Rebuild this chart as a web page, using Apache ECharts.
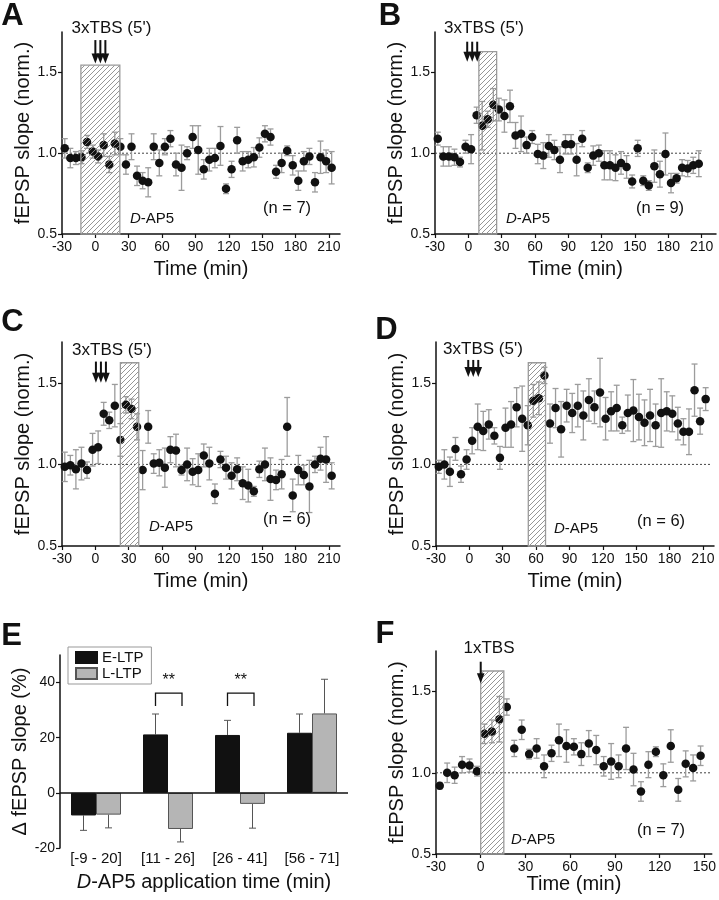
<!DOCTYPE html>
<html><head><meta charset="utf-8">
<script src="https://cdn.jsdelivr.net/npm/echarts@6/dist/echarts.min.js"></script>
<style>html,body{margin:0;padding:0;background:#fff}#c{width:719px;height:900px}</style>
</head><body><div id="c"></div>
<script>
// ---------------- DATA ----------------
const TIME_A = [-27.5,-22.5,-17.5,-12.5,-7.5,-2.5,2.5,7.5,12.5,17.5,22.5,27.5,32.5,37.5,42.5,47.5,52.5,57.5,62.5,67.5,72.5,77.5,82.5,87.5,92.5,97.5,102.5,107.5,112.5,117.5,122.5,127.5,132.5,137.5,142.5,147.5,152.5,157.5,162.5,167.5,172.5,177.5,182.5,187.5,192.5,197.5,202.5,207.5,212.5];
const VAL_A = [1.03,0.97,0.97,0.975,1.07,1.01,0.98,1.05,0.93,1.06,1.04,0.93,1.04,0.86,0.83,0.82,1.04,0.94,1.04,1.09,0.93,0.91,1.0,1.10,1.02,0.90,0.96,0.97,1.045,0.78,0.90,1.08,0.95,0.96,0.975,1.035,1.12,1.10,0.885,0.94,1.015,0.925,0.83,0.95,0.98,0.82,0.975,0.95,0.91];
const ERR_A = [0.06,0.06,0.04,0.04,0.04,0.04,0.04,0.07,0.05,0.07,0.05,0.06,0.08,0.06,0.05,0.09,0.08,0.08,0.05,0.05,0.07,0.14,0.04,0.07,0.15,0.06,0.07,0.06,0.12,0.03,0.05,0.08,0.06,0.05,0.06,0.06,0.05,0.05,0.04,0.06,0.03,0.06,0.06,0.06,0.05,0.06,0.1,0.07,0.1];

const TIME_B = [-27.5,-22.5,-17.5,-12.5,-7.5,-2.5,2.5,7.5,12.5,17.5,22.5,27.5,32.5,37.5,42.5,47.5,52.5,57.5,62.5,67.5,72.5,77.5,82.5,87.5,92.5,97.5,102.5,107.5,112.5,117.5,122.5,127.5,132.5,137.5,142.5,147.5,152.5,157.5,162.5,167.5,172.5,177.5,182.5,187.5,192.5,197.5,202.5,207.5];
const VAL_B = [1.09,0.98,0.98,0.975,0.945,1.04,1.025,1.235,1.17,1.21,1.30,1.27,1.23,1.29,1.11,1.12,1.05,1.10,0.995,0.985,1.045,1.02,0.96,1.055,1.055,0.96,1.09,0.91,0.985,1.0,0.925,0.925,0.91,0.94,0.915,0.825,1.03,0.83,0.80,0.92,0.87,0.995,0.815,0.845,0.91,0.905,0.925,0.935];
const ERR_B = [0.04,0.06,0.06,0.05,0.03,0.04,0.09,0.05,0.15,0.05,0.1,0.07,0.1,0.1,0.08,0.11,0.05,0.04,0.06,0.08,0.07,0.06,0.08,0.06,0.06,0.1,0.05,0.03,0.06,0.05,0.09,0.09,0.08,0.07,0.07,0.04,0.05,0.03,0.03,0.1,0.08,0.13,0.06,0.03,0.05,0.05,0.05,0.08];

const TIME_C = TIME_A;
const VAL_C = [0.985,0.995,0.97,1.005,0.965,1.09,1.105,1.31,1.27,1.36,1.15,1.365,1.34,1.23,0.965,1.23,1.005,1.01,0.98,1.09,1.085,0.965,1.0,0.955,0.965,1.055,1.005,0.82,1.03,0.98,0.93,0.97,0.885,0.87,0.835,0.97,1.0,0.91,0.905,0.94,1.23,0.81,0.965,0.935,0.865,1.0,1.035,1.03,0.93];
const ERR_C = [0.09,0.06,0.12,0.1,0.05,0.1,0.1,0.07,0.05,0.13,0.1,0.05,0.06,0.08,0.12,0.1,0.06,0.08,0.12,0.08,0.1,0.03,0.1,0.08,0.1,0.07,0.1,0.06,0.05,0.07,0.08,0.07,0.1,0.1,0.03,0.05,0.1,0.13,0.06,0.09,0.18,0.1,0.09,0.06,0.16,0.05,0.07,0.14,0.08];

const TIME_D = TIME_A;
const VAL_D = [0.985,1.0,0.955,1.095,0.94,1.03,1.145,1.23,1.205,1.245,1.175,1.04,1.225,1.245,1.35,1.28,1.24,1.39,1.405,1.545,1.25,1.345,1.215,1.36,1.315,1.36,1.3,1.395,1.35,1.44,1.28,1.325,1.345,1.24,1.315,1.33,1.29,1.255,1.3,1.24,1.315,1.325,1.31,1.25,1.2,1.2,1.455,1.265,1.4];
const ERR_D = [0.04,0.09,0.09,0.07,0.05,0.06,0.08,0.14,0.12,0.09,0.05,0.07,0.12,0.14,0.12,0.2,0.12,0.1,0.1,0.05,0.12,0.12,0.17,0.1,0.12,0.13,0.15,0.13,0.1,0.21,0.13,0.12,0.14,0.05,0.11,0.19,0.14,0.14,0.16,0.13,0.21,0.12,0.11,0.1,0.08,0.14,0.16,0.08,0.07];

const TIME_F = [-27.5,-22.5,-17.5,-12.5,-7.5,-2.5,2.5,7.5,12.5,17.5,22.5,27.5,32.5,37.5,42.5,47.5,52.5,57.5,62.5,67.5,72.5,77.5,82.5,87.5,92.5,97.5,102.5,107.5,112.5,117.5,122.5,127.5,132.5,137.5,142.5,147.5];
const VAL_F = [0.92,1.0,0.985,1.05,1.045,1.01,1.24,1.255,1.33,1.405,1.15,1.265,1.115,1.15,1.04,1.12,1.2,1.165,1.16,1.115,1.18,1.14,1.04,1.07,1.04,1.15,1.02,0.885,1.05,1.13,0.985,1.165,0.895,1.055,1.03,1.105];
const ERR_F = [0.02,0.06,0.05,0.05,0.04,0.03,0.06,0.07,0.14,0.05,0.05,0.06,0.03,0.06,0.07,0.05,0.1,0.1,0.05,0.07,0.08,0.09,0.06,0.11,0.07,0.13,0.1,0.06,0.08,0.03,0.07,0.1,0.07,0.08,0.08,0.06];

// D-AP5 application windows [start, end, box top]
const BOX_A = [-13, 22, 1.545];
const BOX_B = [9.5, 25.5, 1.628];
const BOX_C = [22.5, 39, 1.623];
const BOX_D = [53, 68.5, 1.623];
const BOX_F = [0, 15.5, 1.627];

// stimulation arrows: times, arrow top value, arrow tip value
const ARROW_T_A = [0, 4.5, 9];   const ARROW_Y_A = [1.70, 1.555];
const ARROW_T_B = [-1, 3.5, 8];  const ARROW_Y_B = [1.69, 1.566];
const ARROW_T_C = [0.5, 5, 9.5]; const ARROW_Y_C = [1.63, 1.50];
const ARROW_T_D = [-1, 3.5, 8];  const ARROW_Y_D = [1.64, 1.535];
const ARROW_T_F = [0];           const ARROW_Y_F = [1.684, 1.551];

const BASELINE = 1.0;
const DOT_END = [213, 211, 215, 218, 155];

const X_TICKS = [-30,0,30,60,90,120,150,180,210];
const X_TICKS_F = [-30,0,30,60,90,120,150];
const Y_TICKS = [0.5,1.0,1.5];

// Panel E
const E_CATS = ['[-9 - 20]','[11 - 26]','[26 - 41]','[56 - 71]'];
const E_LTP = [-8.2, 21.2, 21.0, 21.8];
const E_LTP_ERR = [5.4, 7.4, 5.3, 6.8];
const L_LTP = [-7.9, -13.1, -4.0, 28.8];
const L_LTP_ERR = [4.8, 4.7, 8.8, 12.4];
const E_Y_TICKS = [-20, 0, 20, 40];
const SIG_CATS = [1, 2];          // categories with ** brackets
const SIG_Y = [36.2, 31.5];       // bracket top, leg end

// ---------------- CHART ----------------
const FONT = '"Liberation Sans", Arial, Helvetica, sans-serif';
const FF = 'Liberation Sans, Arial, Helvetica, sans-serif';
const INK = '#111';

function hatch() {
  const s = 5, c = document.createElement('canvas');
  c.width = s; c.height = s;
  const g = c.getContext('2d');
  g.strokeStyle = '#8a8a8a'; g.lineWidth = 0.9;
  g.beginPath();
  g.moveTo(0, s); g.lineTo(s, 0);
  g.moveTo(-1, 1); g.lineTo(1, -1);
  g.moveTo(s - 1, s + 1); g.lineTo(s + 1, s - 1);
  g.stroke();
  return c;
}
const HATCH = {image: hatch(), repeat: 'repeat'};

const panels = [
  {grid:{left:62, top:32, width:278, height:202}, xMax:220, ticks:X_TICKS, t:TIME_A, v:VAL_A, e:ERR_A, box:BOX_A, at:ARROW_T_A, ay:ARROW_Y_A, nameGap:25},
  {grid:{left:435, top:32, width:281, height:202}, xMax:223, ticks:X_TICKS, t:TIME_B, v:VAL_B, e:ERR_B, box:BOX_B, at:ARROW_T_B, ay:ARROW_Y_B, nameGap:25},
  {grid:{left:62, top:342, width:278, height:204}, xMax:220, ticks:X_TICKS, t:TIME_C, v:VAL_C, e:ERR_C, box:BOX_C, at:ARROW_T_C, ay:ARROW_Y_C, nameGap:25},
  {grid:{left:436, top:342, width:278, height:204}, xMax:220, ticks:X_TICKS, t:TIME_D, v:VAL_D, e:ERR_D, box:BOX_D, at:ARROW_T_D, ay:ARROW_Y_D, nameGap:25},
  {grid:{left:436, top:651, width:278, height:203}, xMax:155, ticks:X_TICKS_F, t:TIME_F, v:VAL_F, e:ERR_F, box:BOX_F, at:ARROW_T_F, ay:ARROW_Y_F, nameGap:19}
];

const grids = [], xAxes = [], yAxes = [], series = [];

function errRender(params, api) {
  const t = api.value(0), v = api.value(1), e = api.value(2);
  const hi = api.coord([t, v + e]), lo = api.coord([t, v - e]);
  const st = {stroke: '#9c9c9c', lineWidth: 1.3};
  return {type: 'group', children: [
    {type: 'line', shape: {x1: hi[0], y1: hi[1], x2: lo[0], y2: lo[1]}, style: st},
    {type: 'line', shape: {x1: hi[0] - 3, y1: hi[1], x2: hi[0] + 3, y2: hi[1]}, style: st},
    {type: 'line', shape: {x1: lo[0] - 3, y1: lo[1], x2: lo[0] + 3, y2: lo[1]}, style: st}
  ]};
}
function boxRender(params, api) {
  const p1 = api.coord([api.value(0), api.value(2)]);
  const p2 = api.coord([api.value(1), 0.5]);
  return {type: 'rect', shape: {x: p1[0], y: p1[1], width: p2[0] - p1[0], height: p2[1] - p1[1]},
    style: {fill: HATCH, stroke: '#9a9a9a', lineWidth: 1.3}};
}
function arrowRender(params, api) {
  const p = api.coord([api.value(0), api.value(1)]);
  const q = api.coord([api.value(0), api.value(2)]);
  return {type: 'group', children: [
    {type: 'line', shape: {x1: p[0], y1: p[1], x2: q[0], y2: q[1] - 8}, style: {stroke: INK, lineWidth: 2}},
    {type: 'polygon', shape: {points: [[q[0] - 3.8, q[1] - 10], [q[0] + 3.8, q[1] - 10], [q[0], q[1]]]}, style: {fill: INK}}
  ]};
}

panels.forEach((p, i) => {
  grids.push(Object.assign({containLabel: false}, p.grid));
  xAxes.push({
    gridIndex: i, type: 'value', min: -30, max: p.xMax,
    axisLine: {onZero: false, lineStyle: {color: INK, width: 1.5}},
    axisTick: {customValues: p.ticks, length: 4, lineStyle: {color: INK, width: 1.2}},
    axisLabel: {customValues: p.ticks, fontSize: 14, fontFamily: FF, color: INK, margin: 6},
    splitLine: {show: false},
    name: 'Time (min)', nameLocation: 'middle', nameGap: p.nameGap,
    nameTextStyle: {fontSize: 20, fontFamily: FF, color: INK}
  });
  yAxes.push({
    gridIndex: i, type: 'value', min: 0.5, max: 1.75,
    axisLine: {show: true, onZero: false, lineStyle: {color: INK, width: 1.5}},
    axisTick: {show: true, customValues: Y_TICKS, length: 4, lineStyle: {color: INK, width: 1.2}},
    axisLabel: {customValues: Y_TICKS, fontSize: 14, fontFamily: FF, color: INK, margin: 5, formatter: v => v.toFixed(1)},
    splitLine: {show: false},
    name: 'fEPSP slope (norm.)', nameLocation: 'middle', nameGap: 27,
    nameTextStyle: {fontSize: 20, fontFamily: FF, color: INK}
  });
  series.push({
    type: 'line', xAxisIndex: i, yAxisIndex: i, silent: true, symbol: 'none', z: 1,
    data: [[-30, BASELINE], [DOT_END[i], BASELINE]],
    lineStyle: {color: '#444', width: 1, type: [2, 2]}
  });
  series.push({
    type: 'custom', xAxisIndex: i, yAxisIndex: i, silent: true, z: 2,
    renderItem: errRender, encode: {x: 0, y: 1},
    data: p.t.map((t, j) => [t, p.v[j], p.e[j]])
  });
  series.push({
    type: 'scatter', xAxisIndex: i, yAxisIndex: i, z: 3, symbolSize: 8.5,
    itemStyle: {color: INK, opacity: 1},
    data: p.t.map((t, j) => [t, p.v[j]])
  });
  series.push({
    type: 'custom', xAxisIndex: i, yAxisIndex: i, silent: true, z: 4,
    renderItem: boxRender, encode: {x: [0, 1], y: 2},
    data: [p.box]
  });
  series.push({
    type: 'custom', xAxisIndex: i, yAxisIndex: i, silent: true, z: 5,
    renderItem: arrowRender, encode: {x: 0, y: [1, 2]},
    data: p.at.map(t => [t, p.ay[0], p.ay[1]])
  });
});

// ---- Panel E (grid index 5)
const EI = 5;
grids.push({left: 60, top: 655, width: 288, height: 193});
xAxes.push({
  gridIndex: EI, type: 'category', data: E_CATS, position: 'bottom',
  axisLine: {show: false, onZero: false}, axisTick: {show: false},
  axisLabel: {fontSize: 15, fontFamily: FF, color: INK, margin: 3},
  name: '{i|D}-AP5 application time (min)', nameLocation: 'middle', nameGap: 24,
  nameTextStyle: {fontSize: 20, fontFamily: FF, color: INK,
    rich: {i: {fontStyle: 'italic', fontSize: 20, fontFamily: FF, color: INK}}}
});
yAxes.push({
  gridIndex: EI, type: 'value', min: -20, max: 50,
  axisLine: {show: true, onZero: false, lineStyle: {color: INK, width: 1.5}},
  axisTick: {show: true, customValues: E_Y_TICKS, length: 4, lineStyle: {color: INK, width: 1.2}},
  axisLabel: {customValues: E_Y_TICKS, fontSize: 14, fontFamily: FF, color: INK, margin: 5},
  splitLine: {show: false},
  name: 'Δ fEPSP slope (%)', nameLocation: 'middle', nameGap: 26,
  nameTextStyle: {fontSize: 20, fontFamily: FF, color: INK}
});
series.push({
  name: 'E-LTP', type: 'bar', xAxisIndex: EI, yAxisIndex: EI, data: E_LTP,
  barWidth: 25, barGap: '0%', z: 2,
  itemStyle: {color: '#111', borderColor: '#111', borderWidth: 1},
  markLine: {silent: true, symbol: ['none', 'none'], label: {show: false},
    lineStyle: {color: INK, type: 'solid', width: 1.5}, data: [{yAxis: 0}]}
});
series.push({
  name: 'L-LTP', type: 'bar', xAxisIndex: EI, yAxisIndex: EI, data: L_LTP,
  barWidth: 25, barGap: '0%', z: 2,
  itemStyle: {color: '#b5b5b5', borderColor: '#555', borderWidth: 1}
});
function barErrRender(params, api) {
  const idx = api.value(0), v = api.value(1), e = api.value(2), off = api.value(3) * 12.5;
  const sgn = v >= 0 ? 1 : -1;
  const a = api.coord([idx, v]), b = api.coord([idx, v + sgn * e]);
  const x = a[0] + off;
  const st = {stroke: '#555', lineWidth: 1};
  return {type: 'group', children: [
    {type: 'line', shape: {x1: x, y1: a[1], x2: x, y2: b[1]}, style: st},
    {type: 'line', shape: {x1: x - 3.5, y1: b[1], x2: x + 3.5, y2: b[1]}, style: st}
  ]};
}
series.push({
  type: 'custom', xAxisIndex: EI, yAxisIndex: EI, silent: true, z: 1,
  renderItem: barErrRender, encode: {x: 0, y: 1},
  data: E_LTP.map((v, j) => [j, v, E_LTP_ERR[j], -1]).concat(L_LTP.map((v, j) => [j, v, L_LTP_ERR[j], 1]))
});
function sigRender(params, api) {
  const idx = api.value(0);
  const top = api.coord([idx, api.value(1)]), leg = api.coord([idx, api.value(2)]);
  const lx = top[0] - 12.5, rx = top[0] + 14;
  return {type: 'group', children: [
    {type: 'polyline', shape: {points: [[lx, leg[1]], [lx, top[1]], [rx, top[1]], [rx, leg[1]]]},
      style: {stroke: INK, lineWidth: 1.3, fill: null}},
    {type: 'text', x: (lx + rx) / 2, y: top[1] - 4,
      style: {text: '**', font: '16px ' + FONT, fill: INK, align: 'center', verticalAlign: 'bottom',
        textAlign: 'center', textVerticalAlign: 'bottom'}}
  ]};
}
series.push({
  type: 'custom', xAxisIndex: EI, yAxisIndex: EI, silent: true, z: 3,
  renderItem: sigRender, encode: {x: 0, y: 1},
  data: SIG_CATS.map(c => [c, SIG_Y[0], SIG_Y[1]])
});

// ---- text annotations
function txt(x, y, text, font, extra) {
  return Object.assign({type: 'text', x: x, y: y, silent: true, z: 100,
    style: {text: text, font: font, fill: INK, align: 'center', verticalAlign: 'middle',
      textAlign: 'center', textVerticalAlign: 'middle'}}, extra || {});
}
function dap5(x, y) {
  return {type: 'text', x: x, y: y, silent: true, z: 100,
    style: {text: '{i|D}{n|-AP5}', align: 'center', verticalAlign: 'middle',
      textAlign: 'center', textVerticalAlign: 'middle', fill: INK,
      rich: {i: {font: 'italic 15px ' + FONT, fill: INK}, n: {font: '15px ' + FONT, fill: INK}}}};
}
const LETTER = 'bold 31px ' + FONT;
const ANN = '17px ' + FONT;
const NF = '16.5px ' + FONT;
const graphic = [
  txt(12.5, 16, 'A', LETTER), txt(390, 16, 'B', LETTER), txt(12.5, 322, 'C', LETTER),
  txt(386.5, 330, 'D', LETTER), txt(11.5, 636, 'E', LETTER), txt(385, 634, 'F', LETTER),
  txt(111.5, 28, "3xTBS (5')", ANN), txt(484, 28, "3xTBS (5')", ANN),
  txt(112, 350, "3xTBS (5')", ANN), txt(483, 349, "3xTBS (5')", ANN), txt(489, 648, '1xTBS', ANN),
  dap5(152, 219), dap5(528, 219), dap5(171, 527), dap5(576, 529), dap5(533, 840),
  txt(287, 208, '(n = 7)', NF), txt(660, 208, '(n = 9)', NF), txt(287, 519, '(n = 6)', NF),
  txt(661, 521, '(n = 6)', NF), txt(661, 830, '(n = 7)', NF)
];

const chart = echarts.init(document.getElementById('c'), null, {renderer: 'canvas'});
chart.setOption({
  animation: false,
  backgroundColor: '#fff',
  textStyle: {fontFamily: FF},
  grid: grids, xAxis: xAxes, yAxis: yAxes, series: series,
  legend: {
    data: ['E-LTP', 'L-LTP'], orient: 'vertical', left: 68, top: 647,
    itemWidth: 21, itemHeight: 11, itemGap: 1, padding: [3, 8, 3, 7],
    borderColor: '#999', borderWidth: 1, icon: 'rect',
    textStyle: {fontSize: 15, fontFamily: FF, color: INK}, selectedMode: false
  },
  graphic: graphic
});
</script></body></html>
